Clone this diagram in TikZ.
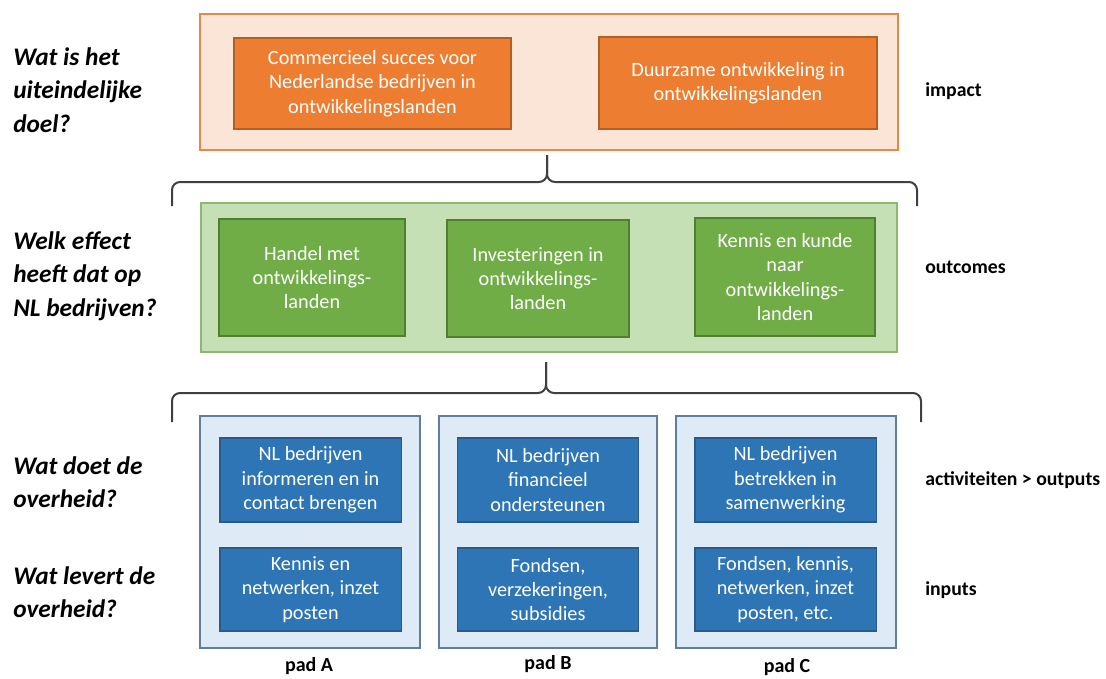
\documentclass[tikz,border=0pt]{standalone}
\usepackage{fontspec}
\setmainfont{Carlito}
\definecolor{impactfill}{HTML}{FBE5D6}
\definecolor{impactline}{HTML}{E9874A}
\definecolor{impactbox}{HTML}{ED7D31}
\definecolor{impactedge}{HTML}{B35E27}
\definecolor{outcomefill}{HTML}{C5E0B4}
\definecolor{outcomeline}{HTML}{8DB870}
\definecolor{outcomebox}{HTML}{70AD47}
\definecolor{outcomeedge}{HTML}{507E32}
\definecolor{padfill}{HTML}{DEEBF7}
\definecolor{padline}{HTML}{5F7E9E}
\definecolor{padbox}{HTML}{2E75B6}
\definecolor{padedge}{HTML}{2A5A8A}
\definecolor{bracecol}{HTML}{404040}
\begin{document}
\begin{tikzpicture}[x=0.75pt, y=-0.75pt,
  frame/.style={draw, line width=1pt, inner sep=0pt},
  box/.style={draw, line width=1pt, inner sep=0pt, align=center, text=white,
    font=\fontsize{15.2}{18.3}\selectfont},
  question/.style={anchor=west, align=left, inner sep=0pt, font=\fontsize{19}{25}\selectfont\bfseries\itshape},
  level/.style={anchor=west, inner sep=0pt, font=\fontsize{14.8}{17}\selectfont\bfseries},
  padname/.style={inner sep=0pt, font=\fontsize{15}{17}\selectfont\bfseries},
  brace/.style={draw=bracecol, line width=1.5pt, rounded corners=6pt}]
  \useasboundingbox (0,0) rectangle (1106,678);

  \node[frame, fill=impactfill, draw=impactline, minimum width=523.5pt, minimum height=102pt] (impact) at (549,82) {};
  \node[box, fill=impactbox, draw=impactedge, minimum width=207.75pt, minimum height=68.25pt] (succes) at (372.5,83.5) {Commercieel succes voor\\Nederlandse bedrijven in\\ontwikkelingslanden};
  \node[box, fill=impactbox, draw=impactedge, minimum width=208.5pt, minimum height=69pt] (duurzaam) at (738,83) {Duurzame ontwikkeling in\\ontwikkelingslanden};

  \draw[brace] (172,206) |- (547,182) -- (547,155);
  \draw[brace] (917,206) |- (547,182) -- (547,155);

  \node[frame, fill=outcomefill, draw=outcomeline, minimum width=522pt, minimum height=111.75pt] (outcomes) at (549,277.5) {};
  \node[box, fill=outcomebox, draw=outcomeedge, minimum width=139.5pt, minimum height=87.75pt] (handel) at (312,277.5) {Handel met\\ontwikkelings-\\landen};
  \node[box, fill=outcomebox, draw=outcomeedge, minimum width=136.5pt, minimum height=87.75pt] (invest) at (538,278.5) {Investeringen in\\ontwikkelings-\\landen};
  \node[box, fill=outcomebox, draw=outcomeedge, minimum width=135pt, minimum height=88.5pt] (kennis) at (785,277) {Kennis en kunde\\naar\\ontwikkelings-\\landen};

  \draw[brace] (172,422) |- (546,393) -- (546,362);
  \draw[brace] (921,422) |- (546,393) -- (546,362);

  \node[frame, fill=padfill, draw=padline, minimum width=165pt, minimum height=174pt] (padA) at (310,532) {};
  \node[frame, fill=padfill, draw=padline, minimum width=163.5pt, minimum height=174pt] (padB) at (548,532) {};
  \node[frame, fill=padfill, draw=padline, minimum width=165pt, minimum height=174pt] (padC) at (786,532) {};

  \node[box, fill=padbox, draw=padedge, minimum width=136pt, minimum height=63pt] (doetA) at (310.5,480) {NL bedrijven\\informeren en in\\contact brengen};
  \node[box, fill=padbox, draw=padedge, minimum width=136pt, minimum height=63pt] (doetB) at (548,480) {NL bedrijven\\financieel\\ondersteunen};
  \node[box, fill=padbox, draw=padedge, minimum width=136pt, minimum height=63pt] (doetC) at (785.5,480) {NL bedrijven\\betrekken in\\samenwerking};
  \node[box, fill=padbox, draw=padedge, minimum width=136pt, minimum height=62.25pt] (levertA) at (310.5,589.5) {Kennis en\\netwerken, inzet\\posten};
  \node[box, fill=padbox, draw=padedge, minimum width=136pt, minimum height=62.25pt] (levertB) at (548,589.5) {Fondsen,\\verzekeringen,\\subsidies};
  \node[box, fill=padbox, draw=padedge, minimum width=136pt, minimum height=62.25pt] (levertC) at (785.5,589.5) {Fondsen, kennis,\\netwerken, inzet\\posten, etc.};

  \node[padname] (nameA) at (309,666) {pad A};
  \node[padname] (nameB) at (548,664) {pad B};
  \node[padname] (nameC) at (787,667) {pad C};

  \node[question] (doel) at (13,90) {Wat is het\\uiteindelijke\\doel?};
  \node[question] (effect) at (13,276) {Welk effect\\heeft dat op\\NL bedrijven?};
  \node[question] (doet) at (13,482) {Wat doet de\\overheid?};
  \node[question] (levert) at (13,592) {Wat levert de\\overheid?};

  \node[level] (impactlabel) at (925,91) {impact};
  \node[level] (outcomelabel) at (925,267) {outcomes};
  \node[level] (outputlabel) at (925,480) {activiteiten > outputs};
  \node[level] (inputlabel) at (925,590) {inputs};
\end{tikzpicture}
\end{document}
